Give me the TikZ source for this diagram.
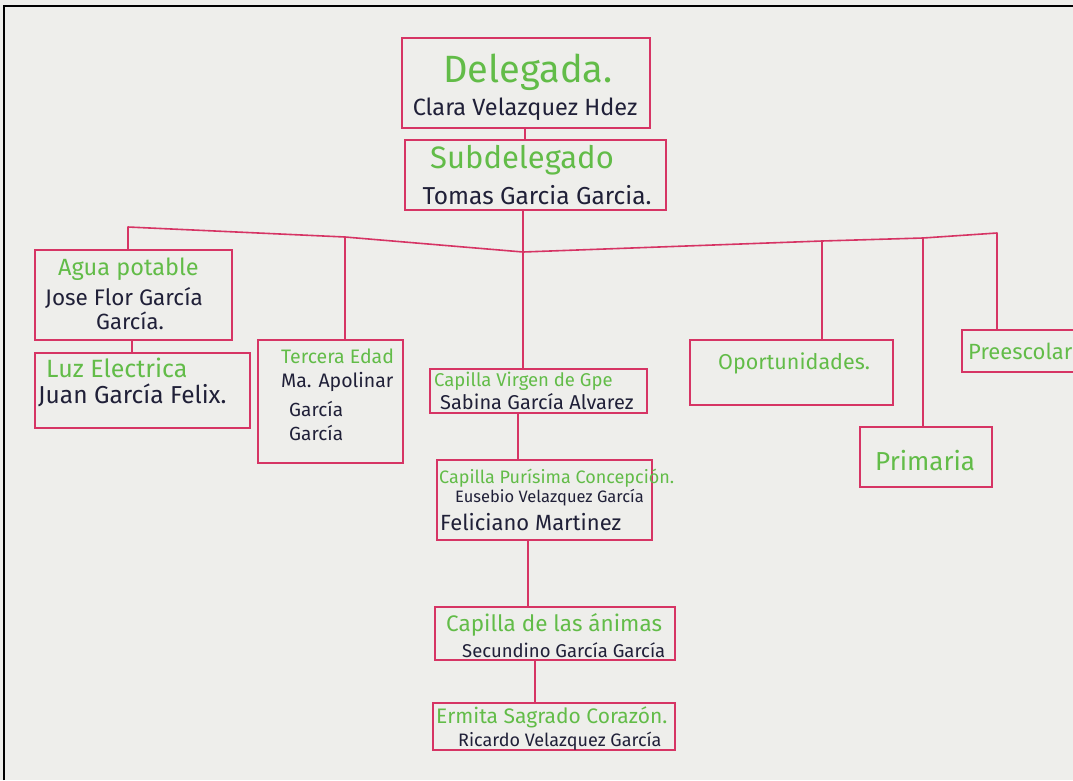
\documentclass[tikz,border=0pt]{standalone}
\usepackage{fontspec}
\setmainfont{Fira Sans}
\definecolor{ink}{RGB}{214,52,100}
\definecolor{gr}{RGB}{98,188,72}
\definecolor{dk}{RGB}{32,32,56}
\definecolor{paper}{RGB}{238,238,235}
\tikzset{
  box/.style={draw=ink, line width=1.6pt, inner sep=0pt},
  wire/.style={draw=ink, line width=1.6pt, line join=round},
  ttl/.style={text=gr, inner sep=0pt, anchor=west},
  nm/.style={text=dk, inner sep=0pt, anchor=west},
}
\newcommand{\fs}[1]{\fontsize{#1}{#1}\selectfont}
\begin{document}
\begin{tikzpicture}[x=1pt,y=-1pt]
\useasboundingbox (0,0) rectangle (1073,780);
\fill[paper] (0,0) rectangle (1073,780);
\begin{scope}
\clip (0,0) rectangle (1073,780);
% boxes
\node[box, minimum width=248, minimum height=90] (del) at (526,83) {};
\node[box, minimum width=261, minimum height=70] (sub) at (535.5,175) {};
\node[box, minimum width=197, minimum height=90] (agua) at (133.5,295) {};
\node[box, minimum width=215, minimum height=75] (luz) at (142.5,390.5) {};
\node[box, minimum width=145, minimum height=123] (ter) at (330.5,401.5) {};
\node[box, minimum width=217, minimum height=44] (cap1) at (538.5,391) {};
\node[box, minimum width=215, minimum height=80] (cap2) at (544.5,500) {};
\node[box, minimum width=240, minimum height=53] (cap3) at (555,633.5) {};
\node[box, minimum width=242, minimum height=47] (cap4) at (554,726.5) {};
\node[box, minimum width=203, minimum height=65] (opo) at (791.5,372.5) {};
\node[box, minimum width=123, minimum height=42] (pre) at (1023.5,351) {};
\node[box, minimum width=132, minimum height=60] (pri) at (926,457) {};
% bus coordinates
\coordinate (bL) at (128,227);
\coordinate (bT) at (345,237);
\coordinate (bJ) at (523,252);
\coordinate (bO) at (822,241);
\coordinate (bP) at (923,238);
\coordinate (bR) at (997,233);
% connectors
\draw[wire] (del.south -| 525,0) -- (sub.north -| 525,0);
\draw[wire] (sub.south -| bJ) -- (bJ) -- (cap1.north -| bJ);
\draw[wire] (agua.north -| bL) -- (bL) -- (bT) -- (bJ) -- (bO) -- (bP) -- (bR) -- (pre.north -| bR);
\draw[wire] (bT) -- (ter.north -| bT);
\draw[wire] (bO) -- (opo.north -| bO);
\draw[wire] (bP) -- (pri.north -| bP);
\draw[wire] (agua.south -| 132,0) -- (luz.north -| 132,0);
\draw[wire] (cap1.south -| 518,0) -- (cap2.north -| 518,0);
\draw[wire] (cap2.south -| 528,0) -- (cap3.north -| 528,0);
\draw[wire] (cap3.south -| 535,0) -- (cap4.north -| 535,0);
% texts
\node[ttl, anchor=center] (tdel) at (528,72) {\fs{38}Delegada.};
\node[nm, anchor=center] (ndel) at (525,109) {\fs{23.5}Clara Velazquez Hdez};
\node[ttl, anchor=center] (tsub) at (522,160) {\fs{31}Subdelegado};
\node[nm, anchor=center] (nsub) at (537,195) {\fs{24.5}Tomas Garcia Garcia.};
\node[ttl] (tagua) at (58,269) {\fs{23.5}Agua potable};
\node[nm] (nagua1) at (45,298) {\fs{22.5}Jose Flor García};
\node[nm] (nagua2) at (96,321) {\fs{22}García.};
\node[ttl] (tluz) at (46,368) {\fs{25}Luz Electrica};
\node[nm] (nluz) at (38,395) {\fs{24.5}Juan García Felix.};
\node[ttl] (tter) at (281,356) {\fs{19.5}Tercera Edad};
\node[nm] (nter1) at (281,382) {\fs{19.5}Ma. Apolinar};
\node[nm] (nter2) at (289,409) {\fs{19}García};
\node[nm] (nter3) at (289,433) {\fs{19}García};
\node[ttl] (tc1) at (434,381) {\fs{18.5}Capilla Virgen de Gpe};
\node[nm] (nc1) at (440,402) {\fs{20}Sabina García Alvarez};
\node[ttl] (tc2) at (439,478) {\fs{18}Capilla Purísima Concepción.};
\node[nm] (nc2a) at (455,498) {\fs{16.5}Eusebio Velazquez García};
\node[nm] (nc2b) at (440,522) {\fs{22}Feliciano Martinez};
\node[ttl] (tc3) at (446,625) {\fs{22.5}Capilla de las ánimas};
\node[nm] (nc3) at (462,650) {\fs{18.5}Secundino García García};
\node[ttl] (tc4) at (436,717) {\fs{21}Ermita Sagrado Corazón.};
\node[nm] (nc4) at (458,741) {\fs{18}Ricardo Velazquez García};
\node[ttl] (topo) at (718,363) {\fs{21.5}Oportunidades.};
\node[ttl] (tpre) at (968,351) {\fs{22}Preescolar};
\node[ttl] (tpri) at (875,461) {\fs{26}Primaria};
\end{scope}
% photo frame
\draw[black, line width=2.5pt] (4,780) -- (4,6) -- (1073,6);
\end{tikzpicture}
\end{document}
